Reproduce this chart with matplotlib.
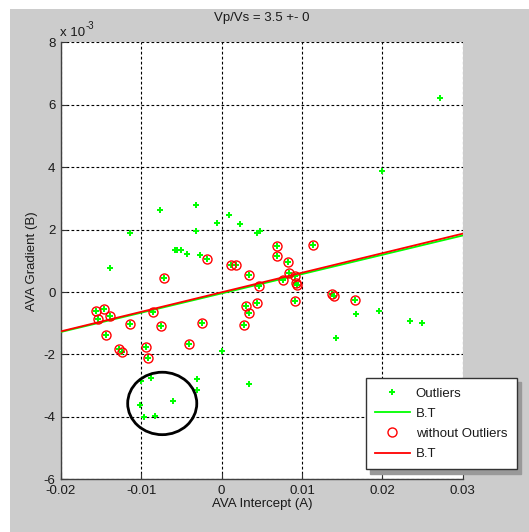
import matplotlib
matplotlib.use('Agg')
import matplotlib.pyplot as plt
from matplotlib.patches import Ellipse, Rectangle

plt.rcParams['font.family'] = ['Liberation Sans', 'DejaVu Sans']

# AVA points flagged as outliers: intercept A and gradient B (B in units of 1e-3)
out_A = [0.02719, 0.01993, -0.00768, -0.00324, 0.00091, -0.00054, -0.01146, -0.00315,
         0.00228, 0.00445, 0.00477, -0.00582, -0.00552, -0.00511, -0.00427, -0.00270,
         -0.01391, 0.00009, 0.01669, 0.01959, 0.02345, 0.02491, 0.01428, 0.00340,
         -0.00303, -0.00303, -0.00884, -0.01000, -0.00601, -0.01021, -0.00968, -0.00831]
out_B = [6.21, 3.88, 2.64, 2.80, 2.48, 2.22, 1.90, 1.95,
         2.19, 1.89, 1.96, 1.34, 1.34, 1.34, 1.23, 1.20,
         0.76, -1.89, -0.71, -0.60, -0.93, -0.99, -1.46, -2.94,
         -2.80, -3.15, -2.76, -2.85, -3.50, -3.61, -4.01, -3.97]

# AVA points kept after outlier removal
keep_A = [-0.01563, -0.01466, -0.01538, -0.01392, -0.00859, -0.01143, -0.00756, -0.00240,
          -0.01445, -0.00407, -0.01279, -0.01242, -0.00940, -0.00918, -0.00719, -0.00178,
          0.00121, 0.00174, 0.00694, 0.00694, 0.01139, 0.00826, 0.00340, 0.00465,
          0.00838, 0.00915, 0.00766, 0.00928, 0.00943, 0.00299, 0.00440, 0.00340,
          0.00274, 0.00912, 0.01370, 0.01395, 0.01656]
keep_B = [-0.60, -0.56, -0.88, -0.77, -0.65, -1.02, -1.10, -0.99,
          -1.39, -1.67, -1.83, -1.92, -1.77, -2.12, 0.44, 1.05,
          0.86, 0.88, 1.47, 1.15, 1.52, 0.97, 0.54, 0.19,
          0.60, 0.50, 0.39, 0.28, 0.21, -0.46, -0.35, -0.68,
          -1.07, -0.30, -0.07, -0.14, -0.24]

# Best-trend lines evaluated at the ends of the intercept range
trend_A = [-0.02, 0.03]
trend_all_B = [-1.28, 1.81]
trend_clean_B = [-1.26, 1.87]

# Highlighted cluster of points
ring_center = (-0.0074, -3.57)
ring_width = 0.0086
ring_height = 2.0

x_ticks = [-0.02, -0.01, 0, 0.01, 0.02, 0.03]
x_tick_labels = ['-0.02', '-0.01', '0', '0.01', '0.02', '0.03']
y_ticks = [-6, -4, -2, 0, 2, 4, 6, 8]
y_tick_labels = ['-6', '-4', '-2', '0', '2', '4', '6', '8']

FS = 9.5
TXT = '#1a1a1a'

W, H = 529, 532
fig = plt.figure(figsize=(W / 100, H / 100), dpi=100, facecolor='white')
fig.patches.append(Rectangle((10 / W, 0), 1, 1 - 9 / H, transform=fig.transFigure,
                             facecolor='#cccccc', edgecolor='none', zorder=-10))

ax = fig.add_axes([61 / W, 1 - 479.3 / H, 401.7 / W, 437 / H])
ax.set_facecolor('white')

all_A = out_A + keep_A
all_B = out_B + keep_B

ax.plot(all_A, all_B, linestyle='none', marker='P', color='#00ff00', ms=4.5, mew=0,
        label='Outliers', zorder=3)
ax.plot(trend_A, trend_all_B, color='#00ff00', lw=1.3, label='B.T', zorder=3)
ax.plot(keep_A, keep_B, linestyle='none', marker='o', mfc='none', mec='red', ms=6.5,
        mew=1.0, label='without Outliers', zorder=4)
ax.plot(trend_A, trend_clean_B, color='red', lw=1.3, label='B.T', zorder=4)

ax.add_patch(Ellipse(ring_center, ring_width, ring_height, fill=False,
                     edgecolor='black', lw=2, zorder=5))

ax.set_xlim(-0.02, 0.03)
ax.set_ylim(-6, 8)
ax.set_xticks(x_ticks)
ax.set_xticklabels(x_tick_labels)
ax.set_yticks(y_ticks)
ax.set_yticklabels(y_tick_labels)
ax.tick_params(direction='in', length=4, width=0.8, labelsize=FS, colors='#333333',
               labelcolor=TXT, pad=4)
ax.grid(True, color='black', linestyle=(0, (2.5, 2)), linewidth=0.8)
ax.set_axisbelow(True)
for side in ('top', 'right'):
    ax.spines[side].set_visible(False)
for side in ('left', 'bottom'):
    ax.spines[side].set_color('#404040')
    ax.spines[side].set_linewidth(1.0)

ax.set_xlabel('AVA Intercept (A)', fontsize=FS, color=TXT, va='top')
ax.xaxis.set_label_coords(0.5, -0.042)
ax.set_ylabel('AVA Gradient (B)', fontsize=FS, color=TXT)
ax.yaxis.set_label_coords(-0.058, 0.5)

# axis multiplier written as "x 10" with a raised "-3"
fig.text(60 / W, 1 - 36 / H, 'x 10', ha='left', va='baseline', fontsize=FS, color=TXT)
fig.text(85.5 / W, 1 - 29 / H, '-3', ha='left', va='baseline', fontsize=7, color=TXT)
fig.text(262 / W, 1 - 18 / H, 'Vp/Vs = 3.5 +- 0', ha='center', va='center',
         fontsize=FS, color=TXT)

leg = ax.legend(loc='upper left', bbox_to_anchor=(365.7 / W, 1 - 378.3 / H),
                bbox_transform=fig.transFigure, borderaxespad=0, fontsize=FS,
                frameon=True, fancybox=False, edgecolor='#333333', framealpha=1,
                handlelength=2.65, handletextpad=0.45, borderpad=0.7, labelspacing=0.6,
                shadow={'ox': 3, 'oy': -3, 'color': '#999999', 'alpha': 1})
leg.get_frame().set_linewidth(1.0)
for t in leg.get_texts():
    t.set_color(TXT)

fig.savefig('out.png', dpi=100, facecolor=fig.get_facecolor())
